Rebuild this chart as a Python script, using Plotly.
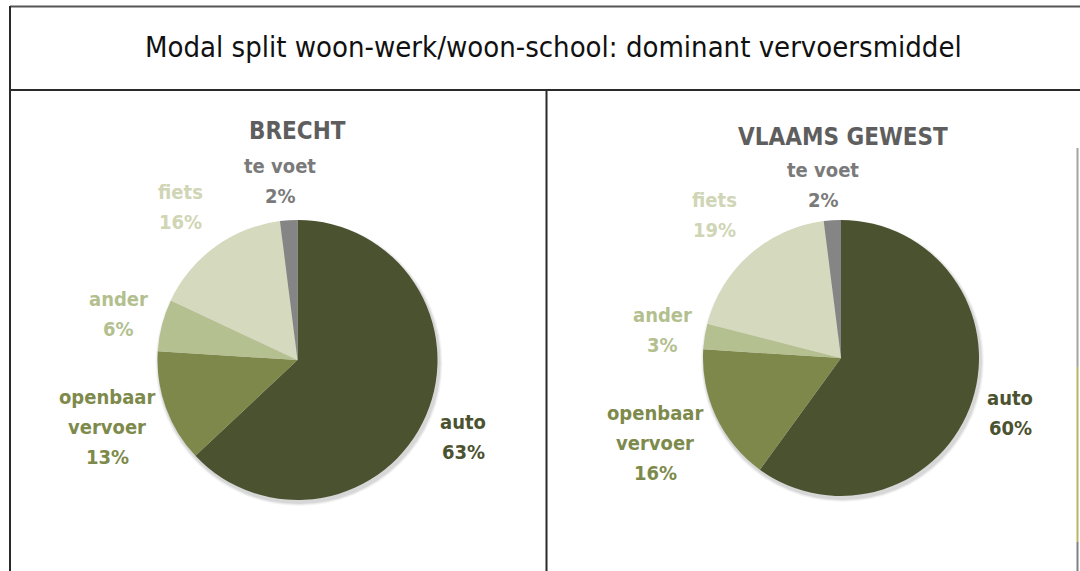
import plotly.graph_objects as go

W, H = 1080, 571

# ---- data ----
categories = ["auto", "openbaar vervoer", "ander", "fiets", "te voet"]
label_lines = [["auto"], ["openbaar", "vervoer"], ["ander"], ["fiets"], ["te voet"]]
brecht_values = [63, 13, 6, 16, 2]
vlaams_values = [60, 16, 3, 19, 2]
panel_titles = ["BRECHT", "VLAAMS GEWEST"]
main_title = "Modal split woon-werk/woon-school: dominant vervoersmiddel"

slice_colors = ["#4b522f", "#7e884b", "#b5c091", "#d5d9bd", "#858585"]
text_colors = ["#4b5230", "#7d8a4b", "#b3bf8f", "#cfd5b5", "#7a7a7a"]

# ---- layout helpers (pixel -> paper) ----
def px(x):
    return x / W

def py(y):
    return 1 - y / H

FONT = "Liberation Sans Narrow, Arial Narrow, DejaVu Sans Condensed, Roboto Condensed, Roboto, sans-serif"

# label anchor = (center x, y of first line)
pies = [
    dict(cx=297.5, cy=360, r=140, values=brecht_values, title=panel_titles[0], tx=297, ty=131,
         label_pos=[(463, 422), (107, 397), (118, 299), (180, 192), (280, 166)]),
    dict(cx=841, cy=358, r=138, values=vlaams_values, title=panel_titles[1], tx=843, ty=137,
         label_pos=[(1010, 398), (655, 413), (662, 315), (714, 200), (823, 170)]),
]
LINE_GAP = 30

fig = go.Figure()
shapes = []
annotations = []

for p in pies:
    cx, cy, r = p["cx"], p["cy"], p["r"]
    fig.add_trace(go.Pie(
        labels=categories,
        values=p["values"],
        sort=False,
        direction="clockwise",
        rotation=0,
        marker=dict(colors=slice_colors, line=dict(width=0)),
        textinfo="none",
        hoverinfo="label+percent",
        showlegend=False,
        domain=dict(x=[px(cx - r), px(cx + r)], y=[py(cy + r), py(cy - r)]),
    ))
    for k, a in [(4, 0.04), (3, 0.05), (2, 0.07)]:
        shapes.append(dict(type="circle", xref="paper", yref="paper", layer="below",
                           x0=px(cx - r - k + 2), x1=px(cx + r + k + 1),
                           y0=py(cy + r + k + 2), y1=py(cy - r - k + 4),
                           fillcolor=f"rgba(0,0,0,{a})", line=dict(width=0)))
    annotations.append(dict(x=px(p["tx"]), y=py(p["ty"]), xref="paper", yref="paper",
                            text=p["title"], showarrow=False, xanchor="center", yanchor="middle",
                            font=dict(family=FONT, size=24, color="#5e5e5e", weight="bold")))
    for i, val in enumerate(p["values"]):
        lx, ly = p["label_pos"][i]
        lines = label_lines[i] + [f"{val}%"]
        for j, line in enumerate(lines):
            annotations.append(dict(x=px(lx), y=py(ly + j * LINE_GAP), xref="paper", yref="paper",
                                    text=line, showarrow=False, xanchor="center", yanchor="middle",
                                    font=dict(family=FONT, size=20, color=text_colors[i], weight="bold")))

annotations.append(dict(x=px(553.5), y=py(47), xref="paper", yref="paper",
                        text=main_title, showarrow=False, xanchor="center", yanchor="middle",
                        font=dict(family=FONT, size=29, color="#111111")))

line_col = "#2a2a2a"
def seg(x0, y0, x1, y1, color=line_col, width=2):
    shapes.append(dict(type="line", xref="paper", yref="paper",
                       x0=px(x0), y0=py(y0), x1=px(x1), y1=py(y1),
                       line=dict(color=color, width=width)))

seg(10, 6.5, 1080, 6.5, "#555555", 2)
seg(10, 6, 10, 571)
seg(10, 90, 1080, 90)
seg(546.5, 90, 546.5, 571)
seg(1077.5, 148, 1077.5, 367, "#a3a3a3", 2)
seg(1077.5, 367, 1077.5, 542, "#b8b462", 2)
seg(1077.5, 542, 1077.5, 571, "#7c8189", 2)

fig.update_layout(
    width=W, height=H,
    margin=dict(l=0, r=0, t=0, b=0),
    paper_bgcolor="white",
    plot_bgcolor="white",
    shapes=shapes,
    annotations=annotations,
)

fig.write_html("out.html")
